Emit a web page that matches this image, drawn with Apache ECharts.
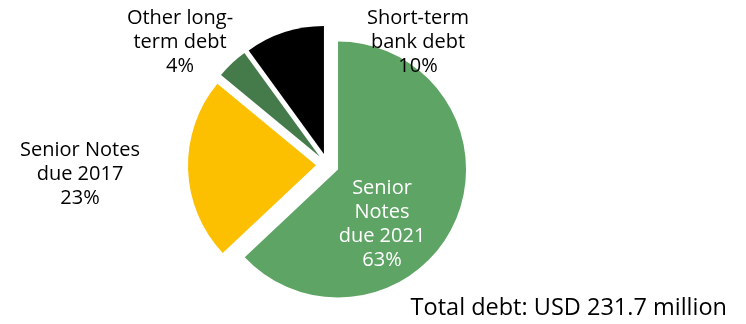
<!DOCTYPE html>
<html>
<head>
<meta charset="utf-8">
<script src="https://cdn.jsdelivr.net/npm/echarts@6/dist/echarts.min.js"></script>
<style>
  html, body { margin: 0; padding: 0; background: #fff; }
  #chart { width: 746px; height: 324px; }
</style>
</head>
<body>
<div id="chart"></div>
<script>
// Debt composition (share of total, %)
const categories = ['Senior\nNotes\ndue 2021', 'Senior Notes\ndue 2017', 'Other long-\nterm debt', 'Short-term\nbank debt'];
const shares = [63, 23, 4, 10];
const sliceColors = ['#5EA465', '#FCC000', '#457A4A', '#000000'];
const labelColors = ['#ffffff', '#000000', '#000000', '#000000'];
const totalLabel = 'Total debt: USD 231.7 million';

// Centre point of each slice's text block
const labelAnchors = [[382, 224], [80, 174], [180, 42], [418, 42]];

const FONT = '"Open Sans", sans-serif';

const chart = echarts.init(document.getElementById('chart'), null, { renderer: 'canvas' });

const sliceLabels = categories.map((name, i) => ({
  type: 'text',
  x: labelAnchors[i][0],
  y: labelAnchors[i][1],
  z: 100,
  silent: true,
  style: {
    text: name + '\n' + shares[i] + '%',
    fill: labelColors[i],
    fontFamily: FONT,
    fontSize: 20,
    lineHeight: 24,
    align: 'center',
    verticalAlign: 'middle'
  }
}));

chart.setOption({
  animation: false,
  backgroundColor: '#ffffff',
  graphic: sliceLabels.concat([{
    type: 'text',
    x: 727,
    y: 308,
    z: 100,
    silent: true,
    style: {
      text: totalLabel,
      fill: '#000000',
      fontFamily: FONT,
      fontSize: 23.5,
      align: 'right',
      verticalAlign: 'middle'
    }
  }]),
  series: [{
    type: 'pie',
    center: [327.5, 165],
    radius: 128,
    startAngle: 90,
    clockwise: true,
    selectedMode: 'multiple',
    selectedOffset: 11.5,
    emphasis: { disabled: true },
    itemStyle: { borderWidth: 0 },
    label: { show: false },
    labelLine: { show: false },
    data: categories.map((name, i) => ({
      name: name,
      value: shares[i],
      selected: true,
      itemStyle: { color: sliceColors[i] }
    }))
  }]
});
</script>
</body>
</html>
